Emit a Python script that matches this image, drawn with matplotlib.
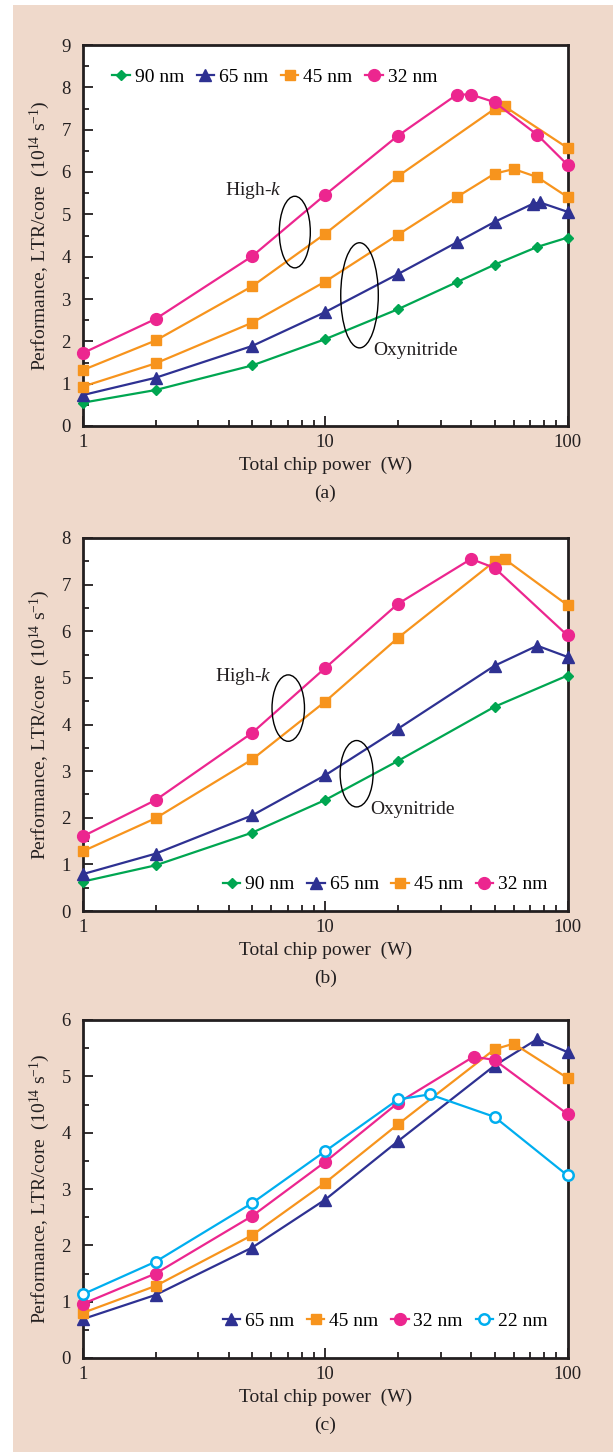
import matplotlib
matplotlib.use("Agg")
import matplotlib.pyplot as plt
from matplotlib.patches import Ellipse, Rectangle
from matplotlib.ticker import FixedLocator, MultipleLocator, NullFormatter

plt.rcParams['font.family'] = ['Liberation Serif', 'DejaVu Serif']
plt.rcParams['mathtext.fontset'] = 'custom'
plt.rcParams['mathtext.rm'] = 'Liberation Serif'
plt.rcParams['mathtext.it'] = 'Liberation Serif:italic'

# ---------------- data ----------------
# panel (a)
x90a = [1, 2, 5, 10, 20, 35, 50, 75, 100]
y90a = [0.55, 0.85, 1.43, 2.05, 2.76, 3.40, 3.81, 4.23, 4.45]
x65a = [1, 2, 5, 10, 20, 35, 50, 72, 77, 100]
y65a = [0.73, 1.14, 1.89, 2.69, 3.59, 4.34, 4.82, 5.25, 5.28, 5.06]
x45a_ox = [1, 2, 5, 10, 20, 35, 50, 60, 75, 100]
y45a_ox = [0.93, 1.48, 2.44, 3.41, 4.52, 5.41, 5.96, 6.07, 5.88, 5.41]
x45a_hk = [1, 2, 5, 10, 20, 50, 55, 100]
y45a_hk = [1.32, 2.02, 3.30, 4.54, 5.90, 7.49, 7.55, 6.57]
x32a = [1, 2, 5, 10, 20, 35, 40, 50, 75, 100]
y32a = [1.72, 2.53, 4.01, 5.46, 6.86, 7.83, 7.83, 7.65, 6.88, 6.17]

# panel (b)
x90b = [1, 2, 5, 10, 20, 50, 100]
y90b = [0.63, 0.98, 1.68, 2.38, 3.22, 4.38, 5.05]
x65b = [1, 2, 5, 10, 20, 50, 75, 100]
y65b = [0.79, 1.23, 2.05, 2.91, 3.91, 5.26, 5.69, 5.45]
x45b = [1, 2, 5, 10, 20, 50, 55, 100]
y45b = [1.28, 1.99, 3.25, 4.49, 5.86, 7.50, 7.55, 6.56]
x32b = [1, 2, 5, 10, 20, 40, 50, 100]
y32b = [1.60, 2.38, 3.82, 5.21, 6.59, 7.55, 7.36, 5.91]

# panel (c)
x65c = [1, 2, 5, 10, 20, 50, 75, 100]
y65c = [0.69, 1.12, 1.96, 2.81, 3.85, 5.19, 5.66, 5.43]
x45c = [1, 2, 5, 10, 20, 50, 60, 100]
y45c = [0.80, 1.28, 2.18, 3.11, 4.15, 5.48, 5.58, 4.97]
x32c = [1, 2, 5, 10, 20, 41, 50, 100]
y32c = [0.96, 1.50, 2.52, 3.48, 4.53, 5.35, 5.29, 4.33]
x22c = [1, 2, 5, 10, 20, 27, 50, 100]
y22c = [1.13, 1.71, 2.75, 3.67, 4.59, 4.68, 4.28, 3.24]

xticks = [1, 10, 100]
xticklabels = ["1", "10", "100"]
xlabel = "Total chip power  (W)"
ylabel = "Performance, LTR/core  (10$^{14}$ s$^{-1}$)"

# ---------------- styles ----------------
C90 = '#00a651'
C65 = '#2e3192'
C45 = '#f7941d'
C32 = '#ec268f'
C22 = '#00aeef'
DARK = '#231f20'
BG = '#efd9cb'
FS = 14
TFS = 13.5

fig = plt.figure(figsize=(6.13, 14.52), dpi=100)
fig.patch.set_facecolor('white')
fig.add_artist(Rectangle((13 / 613, 0), 1 - 13 / 613, 1 - 5 / 1452,
                         transform=fig.transFigure, facecolor=BG,
                         edgecolor='none', zorder=-10))

L = 82.7 / 613
R = 567.5 / 613
W = R - L


def fy(px):
    return 1 - px / 1452


def make_ax(top_px, bot_px, ymax):
    ax = fig.add_axes([L, fy(bot_px), W, fy(top_px) - fy(bot_px)])
    ax.set_facecolor('white')
    ax.set_xscale('log')
    ax.set_xlim(1, 100)
    ax.set_ylim(0, ymax)
    ax.xaxis.set_major_locator(FixedLocator(xticks))
    ax.set_xticklabels(xticklabels)
    ax.xaxis.set_minor_locator(FixedLocator([2, 3, 4, 5, 6, 7, 8, 9,
                                             20, 30, 40, 50, 60, 70, 80, 90]))
    ax.xaxis.set_minor_formatter(NullFormatter())
    ax.yaxis.set_major_locator(MultipleLocator(1))
    ax.yaxis.set_minor_locator(MultipleLocator(0.5))
    ax.tick_params(which='both', direction='in', colors=DARK,
                   labelsize=TFS, width=1.3)
    ax.tick_params(which='major', length=7)
    ax.tick_params(axis='x', which='major', pad=6)
    ax.tick_params(axis='y', which='major', pad=8.5)
    ax.tick_params(which='minor', length=4)
    for s in ax.spines.values():
        s.set_linewidth(2.0)
        s.set_color(DARK)
    ax.set_xlabel(xlabel, fontsize=FS, color=DARK, labelpad=4)
    ax.set_ylabel(ylabel, fontsize=FS, color=DARK, labelpad=7)
    return ax


lkw = dict(lw=1.6, clip_on=False, zorder=3)


def plot_set(ax, series):
    for x, y, c, m, lab, ms in series:
        if m == 'o_open':
            ax.plot(x, y, color=c, marker='o', mfc='white', mec=c, mew=1.8,
                    label=lab, markersize=ms, **lkw)
        else:
            ax.plot(x, y, color=c, marker=m, mec=c, label=lab,
                    markersize=ms, **lkw)


legkw = dict(ncol=4, frameon=False, fontsize=FS, handlelength=0.9,
             handletextpad=0.25, columnspacing=0.65, borderaxespad=0)

# ---- panel (a)
axa = make_ax(45, 426, 9)
plot_set(axa, [
    (x90a, y90a, C90, 'D', '90 nm', 5.5),
    (x65a, y65a, C65, '^', '65 nm', 8),
    (x45a_hk, y45a_hk, C45, 's', '45 nm', 7),
    (x45a_ox, y45a_ox, C45, 's', None, 7),
    (x32a, y32a, C32, 'o', '32 nm', 8.5),
])
h, l = axa.get_legend_handles_labels()
axa.legend(h, l, loc='center left', bbox_to_anchor=(0.045, 0.916), **legkw)
axa.add_patch(Ellipse((0.4375, 0.509), 0.064, 0.188, transform=axa.transAxes,
                      fill=False, ec='black', lw=1.0, zorder=4))
axa.add_patch(Ellipse((0.571, 0.343), 0.0775, 0.276, transform=axa.transAxes,
                      fill=False, ec='black', lw=1.0, zorder=4))
axa.text(0.294, 0.617, 'High-$\\mathit{k}$', transform=axa.transAxes,
         fontsize=FS, va='center', ha='left', color=DARK)
axa.text(0.60, 0.197, 'Oxynitride', transform=axa.transAxes,
         fontsize=FS, va='center', ha='left', color=DARK)
fig.text((L + R) / 2, fy(493), '(a)', ha='center', va='center',
         fontsize=FS, color=DARK)

# ---- panel (b)
axb = make_ax(538, 911, 8)
plot_set(axb, [
    (x90b, y90b, C90, 'D', '90 nm', 5.5),
    (x65b, y65b, C65, '^', '65 nm', 8),
    (x45b, y45b, C45, 's', '45 nm', 7),
    (x32b, y32b, C32, 'o', '32 nm', 8.5),
])
axb.legend(loc='center right', bbox_to_anchor=(0.975, 0.071), **legkw)
axb.add_patch(Ellipse((0.424, 0.544), 0.067, 0.178, transform=axb.transAxes,
                      fill=False, ec='black', lw=1.0, zorder=4))
axb.add_patch(Ellipse((0.565, 0.368), 0.068, 0.178, transform=axb.transAxes,
                      fill=False, ec='black', lw=1.0, zorder=4))
axb.text(0.272, 0.628, 'High-$\\mathit{k}$', transform=axb.transAxes,
         fontsize=FS, va='center', ha='left', color=DARK)
axb.text(0.594, 0.272, 'Oxynitride', transform=axb.transAxes,
         fontsize=FS, va='center', ha='left', color=DARK)
fig.text((L + R) / 2, fy(978), '(b)', ha='center', va='center',
         fontsize=FS, color=DARK)

# ---- panel (c)
axc = make_ax(1020, 1358, 6)
plot_set(axc, [
    (x65c, y65c, C65, '^', '65 nm', 8),
    (x45c, y45c, C45, 's', '45 nm', 7),
    (x32c, y32c, C32, 'o', '32 nm', 8.5),
    (x22c, y22c, C22, 'o_open', '22 nm', 7.5),
])
axc.legend(loc='center right', bbox_to_anchor=(0.975, 0.108), **legkw)
fig.text((L + R) / 2, fy(1425), '(c)', ha='center', va='center',
         fontsize=FS, color=DARK)

fig.savefig('out.png', dpi=100, facecolor=fig.get_facecolor())
